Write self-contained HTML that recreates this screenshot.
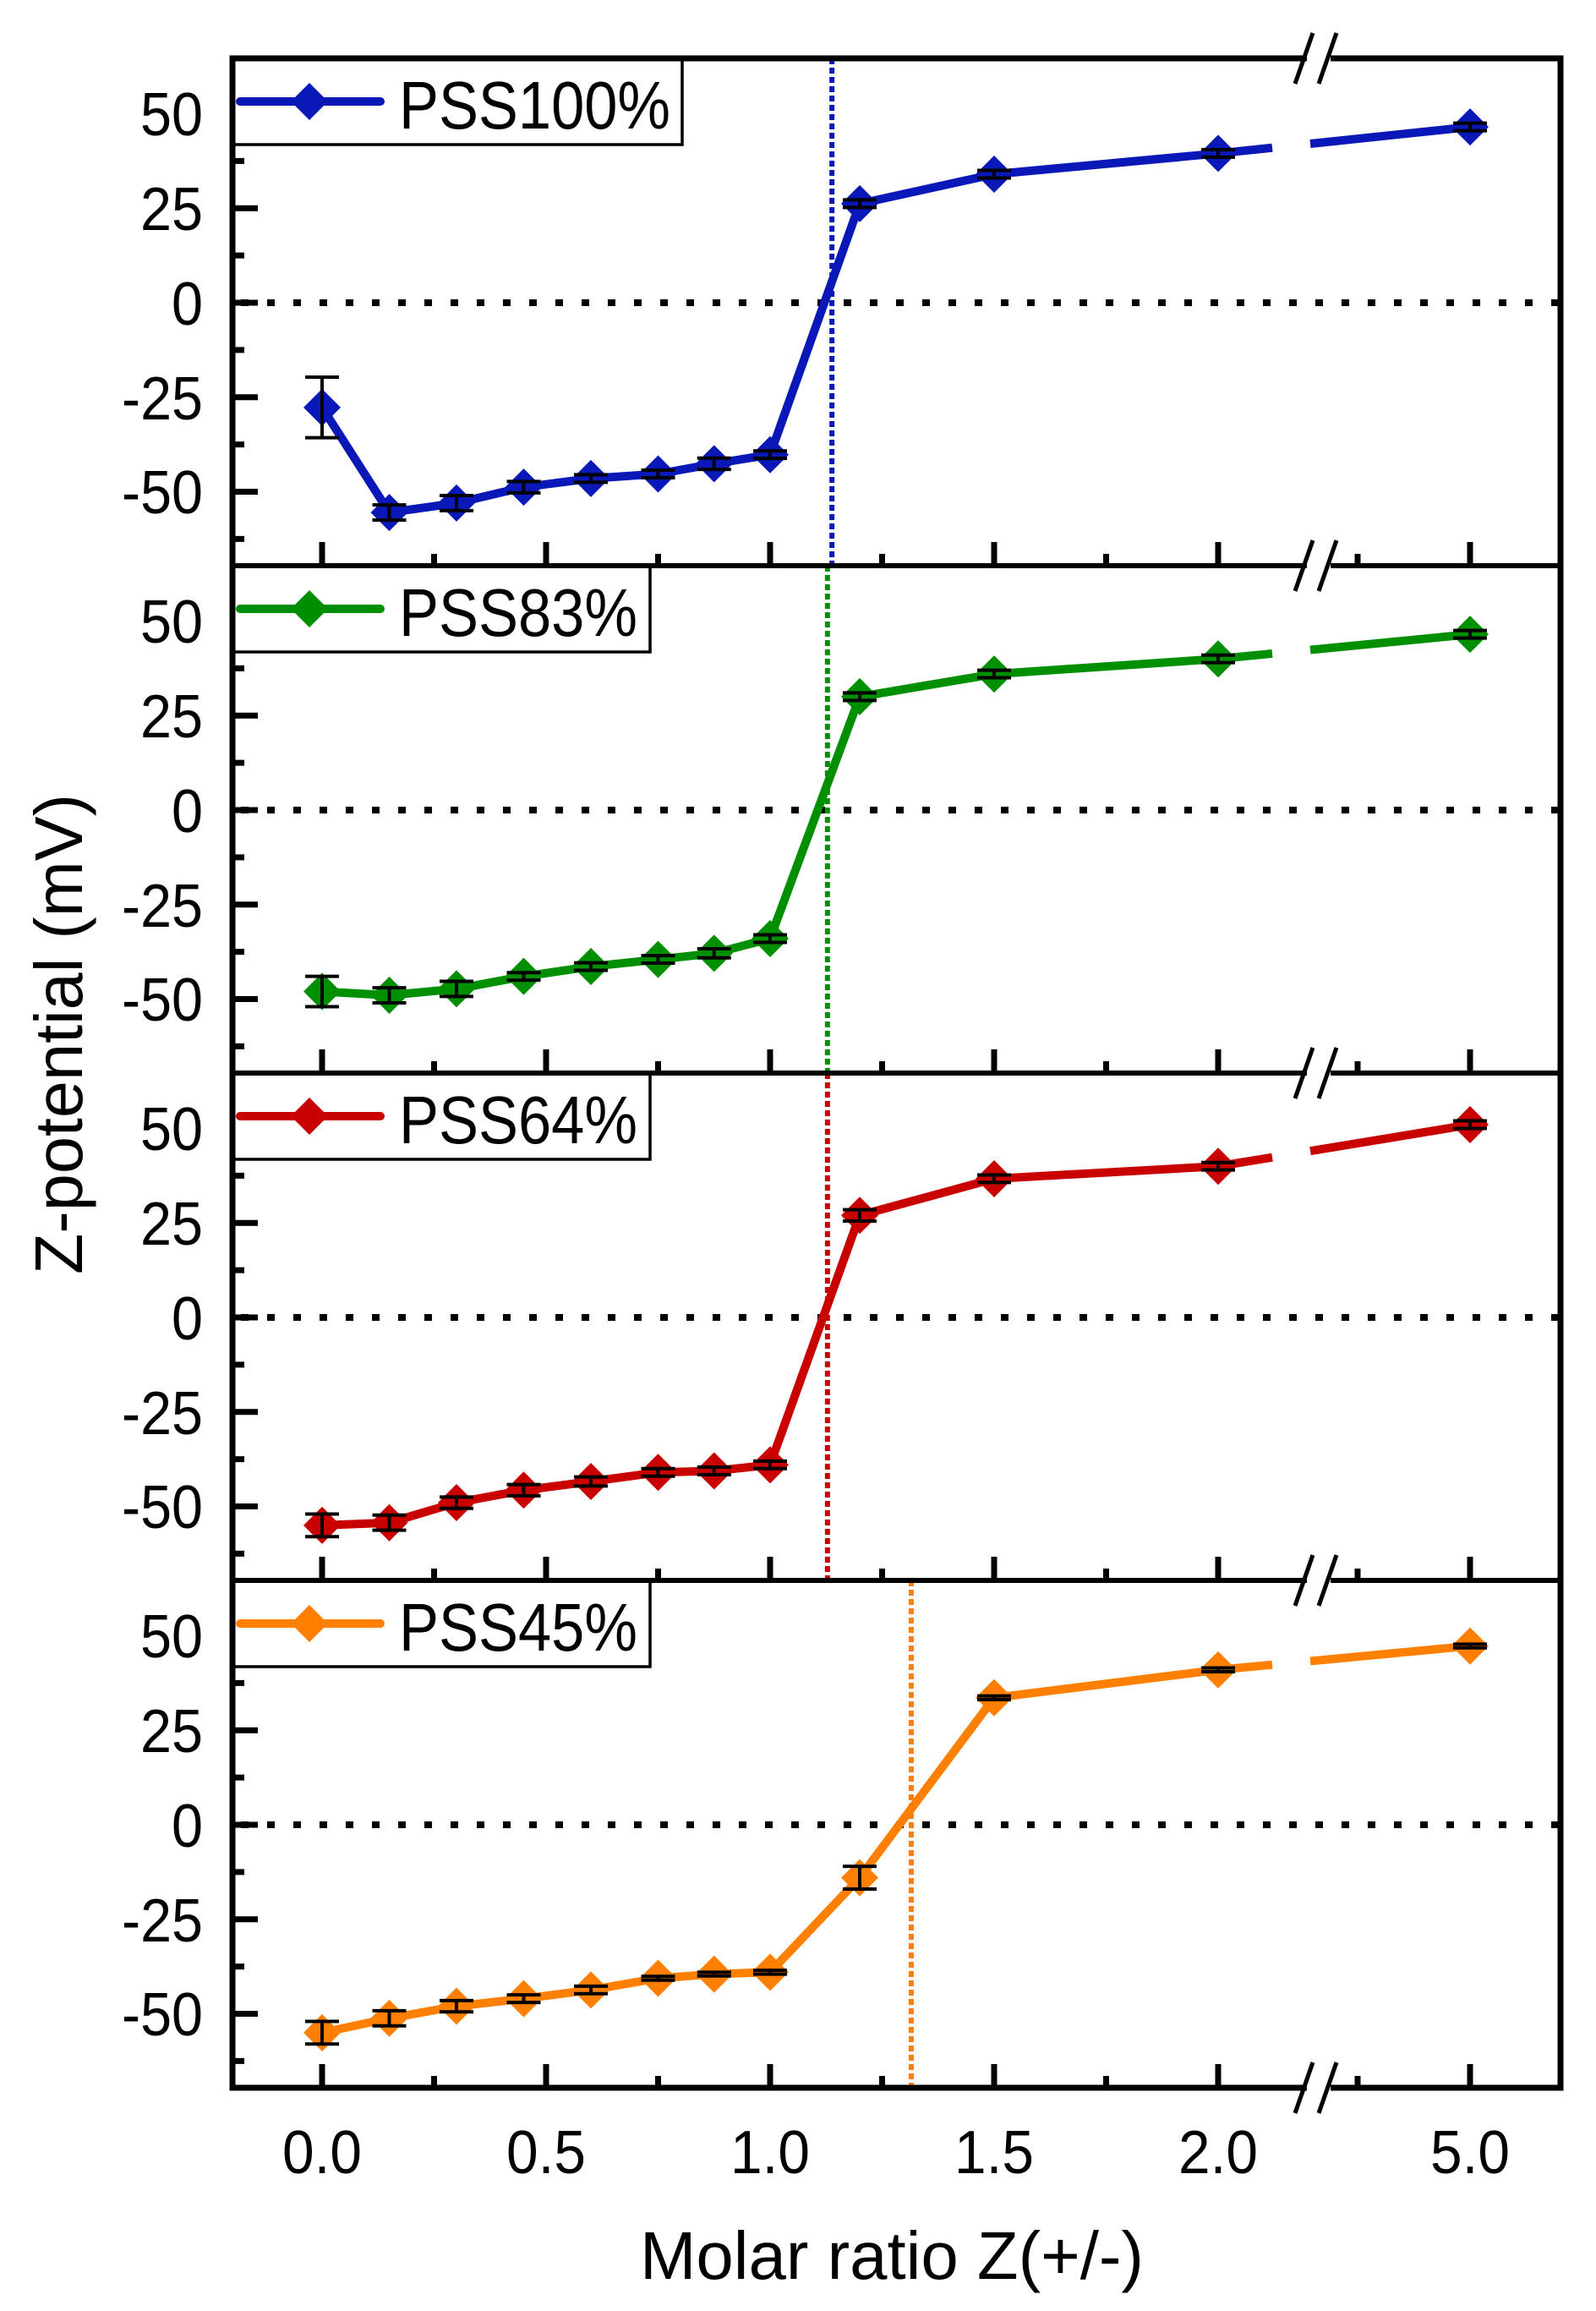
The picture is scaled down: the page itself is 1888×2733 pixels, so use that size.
<!DOCTYPE html>
<html><head><meta charset="utf-8"><style>
html,body{margin:0;padding:0;background:#fff}
svg{display:block}
text{font-family:"Liberation Sans",Arial,sans-serif;fill:#000}
</style></head><body>
<svg id="s" width="1888" height="2733" viewBox="0 0 1888 2733" xmlns="http://www.w3.org/2000/svg">
<g id="g"></g>
<g font-size="72" text-anchor="end" lengthAdjust="spacingAndGlyphs">
<text x="240" y="160" textLength="74" lengthAdjust="spacingAndGlyphs">50</text><text x="240" y="272" textLength="74" lengthAdjust="spacingAndGlyphs">25</text><text x="240" y="384" textLength="37" lengthAdjust="spacingAndGlyphs">0</text><text x="240" y="496" textLength="96" lengthAdjust="spacingAndGlyphs">-25</text><text x="240" y="607" textLength="96" lengthAdjust="spacingAndGlyphs">-50</text>
<text x="240" y="760" textLength="74" lengthAdjust="spacingAndGlyphs">50</text><text x="240" y="872" textLength="74" lengthAdjust="spacingAndGlyphs">25</text><text x="240" y="984" textLength="37" lengthAdjust="spacingAndGlyphs">0</text><text x="240" y="1096" textLength="96" lengthAdjust="spacingAndGlyphs">-25</text><text x="240" y="1207" textLength="96" lengthAdjust="spacingAndGlyphs">-50</text>
<text x="240" y="1360" textLength="74" lengthAdjust="spacingAndGlyphs">50</text><text x="240" y="1472" textLength="74" lengthAdjust="spacingAndGlyphs">25</text><text x="240" y="1584" textLength="37" lengthAdjust="spacingAndGlyphs">0</text><text x="240" y="1696" textLength="96" lengthAdjust="spacingAndGlyphs">-25</text><text x="240" y="1807" textLength="96" lengthAdjust="spacingAndGlyphs">-50</text>
<text x="240" y="1960" textLength="74" lengthAdjust="spacingAndGlyphs">50</text><text x="240" y="2072" textLength="74" lengthAdjust="spacingAndGlyphs">25</text><text x="240" y="2184" textLength="37" lengthAdjust="spacingAndGlyphs">0</text><text x="240" y="2296" textLength="96" lengthAdjust="spacingAndGlyphs">-25</text><text x="240" y="2407" textLength="96" lengthAdjust="spacingAndGlyphs">-50</text>
</g>
<g font-size="72" text-anchor="middle">
<text x="381" y="2570" textLength="94" lengthAdjust="spacingAndGlyphs">0.0</text><text x="646" y="2570" textLength="94" lengthAdjust="spacingAndGlyphs">0.5</text><text x="911" y="2570" textLength="94" lengthAdjust="spacingAndGlyphs">1.0</text><text x="1176" y="2570" textLength="94" lengthAdjust="spacingAndGlyphs">1.5</text><text x="1441" y="2570" textLength="94" lengthAdjust="spacingAndGlyphs">2.0</text><text x="1739" y="2570" textLength="94" lengthAdjust="spacingAndGlyphs">5.0</text>
</g>
<text x="1055" y="2695" font-size="80" text-anchor="middle" textLength="596" lengthAdjust="spacingAndGlyphs">Molar ratio Z(+/-)</text>
<text transform="translate(97,1223) rotate(-90)" font-size="80" text-anchor="middle" textLength="568" lengthAdjust="spacingAndGlyphs">Z-potential (mV)</text>
<g font-size="80">
<text x="472" y="152" textLength="321" lengthAdjust="spacingAndGlyphs">PSS100%</text>
<text x="472" y="752" textLength="282" lengthAdjust="spacingAndGlyphs">PSS83%</text>
<text x="472" y="1352" textLength="282" lengthAdjust="spacingAndGlyphs">PSS64%</text>
<text x="472" y="1952" textLength="282" lengthAdjust="spacingAndGlyphs">PSS45%</text>
</g>
</svg>
<script>
var g=document.getElementById('g'),NS='http://www.w3.org/2000/svg';
function el(t,a){var e=document.createElementNS(NS,t);for(var k in a)e.setAttribute(k,a[k]);g.appendChild(e);return e;}
var L=275,R=1846,T0=69,H=600;
function X(v){return v>3?1739:381+530*v;}
var xs=[0,.15,.3,.45,.6,.75,.875,1.0,1.2,1.5,2.0,5.0];
var P=[
{c:'#0a18b8',vx:1.138,lr:807,y:[-27.7,-55.5,-53,-48.8,-46.5,-45.3,-42.6,-40.2,26.2,34,39.5,46.5],e:[8,2,2,1.5,1,1,1.5,1,1,1,1,1]},
{c:'#008f00',vx:1.128,lr:769,y:[-48,-49,-47.3,-44,-41.4,-39.5,-37.9,-34,30,36,40,46.5],e:[4,2,2,1,1,1,1.2,1,1,1,1,1]},
{c:'#c80000',vx:1.128,lr:769,y:[-55,-54.3,-49,-45.7,-43.4,-41,-40.6,-39,27,36.7,40,51],e:[3,2,1.5,1.5,1.2,1,1,1,1.5,1,1,1]},
{c:'#ff8000',vx:1.315,lr:769,y:[-55,-51.2,-48,-46,-43.7,-40.6,-39.5,-39,-14,33.6,41,47.3],e:[3,2,1.5,1,1,0.5,0.5,0.5,3,0.5,0.5,0.5]}
];
P.forEach(function(p,i){
 var top=T0+H*i; function Y(v){return top+289-v*4.47;}
 el('line',{x1:L+10,x2:R,y1:Y(0),y2:Y(0),stroke:'#000','stroke-width':8,'stroke-dasharray':'9 22'});
 el('line',{x1:X(p.vx),x2:X(p.vx),y1:top,y2:top+H,stroke:p.c,'stroke-width':6,'stroke-dasharray':'7 4'});
 var pts=[];for(var k=0;k<11;k++)pts.push(X(xs[k])+','+Y(p.y[k]));
 el('polyline',{points:pts.join(' '),fill:'none',stroke:p.c,'stroke-width':10,'stroke-linejoin':'round'});
 var x1=X(2),y1=Y(p.y[10]),x2=X(5),y2=Y(p.y[11]);
 function at(x){return y1+(y2-y1)*(x-x1)/(x2-x1);}
 el('line',{x1:x1,y1:y1,x2:1505,y2:at(1505),stroke:p.c,'stroke-width':10});
 el('line',{x1:1550,y1:at(1550),x2:x2,y2:y2,stroke:p.c,'stroke-width':10});
 for(var k=0;k<12;k++){var cx=X(xs[k]),cy=Y(p.y[k]);
  el('polygon',{points:(cx)+','+(cy-22)+' '+(cx+22)+','+cy+' '+cx+','+(cy+22)+' '+(cx-22)+','+cy,fill:p.c});
  var e=p.e[k]*4.47;
  el('path',{d:'M'+cx+' '+(cy-e)+'V'+(cy+e)+'M'+(cx-20)+' '+(cy-e)+'h40M'+(cx-20)+' '+(cy+e)+'h40',stroke:'#000','stroke-width':4,fill:'none'});
 }
 [50,25,0,-25,-50].forEach(function(v){el('line',{x1:L,x2:L+30,y1:Y(v),y2:Y(v),stroke:'#000','stroke-width':7});});
 [37.5,12.5,-12.5,-37.5,-62.5].forEach(function(v){el('line',{x1:L,x2:L+14,y1:Y(v),y2:Y(v),stroke:'#000','stroke-width':7});});
 [0,.5,1,1.5,2,5].forEach(function(v){el('line',{x1:X(v),x2:X(v),y1:top+H,y2:top+H-28,stroke:'#000','stroke-width':7});});
 [.25,.75,1.25,1.75].forEach(function(v){el('line',{x1:X(v),x2:X(v),y1:top+H,y2:top+H-14,stroke:'#000','stroke-width':7});});
 el('line',{x1:1606,x2:1606,y1:top+H,y2:top+H-14,stroke:'#000','stroke-width':7});
 el('rect',{x:L,y:top,width:p.lr-L,height:102,fill:'#fff',stroke:'#000','stroke-width':3.5});
 el('line',{x1:284,x2:450,y1:top+51,y2:top+51,stroke:p.c,'stroke-width':10,'stroke-linecap':'round'});
 el('polygon',{points:'366,'+(top+29)+' 388,'+(top+51)+' 366,'+(top+73)+' 344,'+(top+51),fill:p.c});
});
el('rect',{x:L,y:T0,width:R-L,height:4*H,fill:'none',stroke:'#000','stroke-width':7});
for(var i=1;i<4;i++)el('line',{x1:L,x2:R,y1:T0+H*i,y2:T0+H*i,stroke:'#000','stroke-width':6});
for(var i=0;i<=4;i++){var y=T0+H*i;
 el('rect',{x:1546,y:y-5,width:28,height:10,fill:'#fff'});
 el('line',{x1:1532,y1:y+30,x2:1553,y2:y-30,stroke:'#000','stroke-width':5});
 el('line',{x1:1560,y1:y+30,x2:1581,y2:y-30,stroke:'#000','stroke-width':5});
}
</script>
</body></html>
